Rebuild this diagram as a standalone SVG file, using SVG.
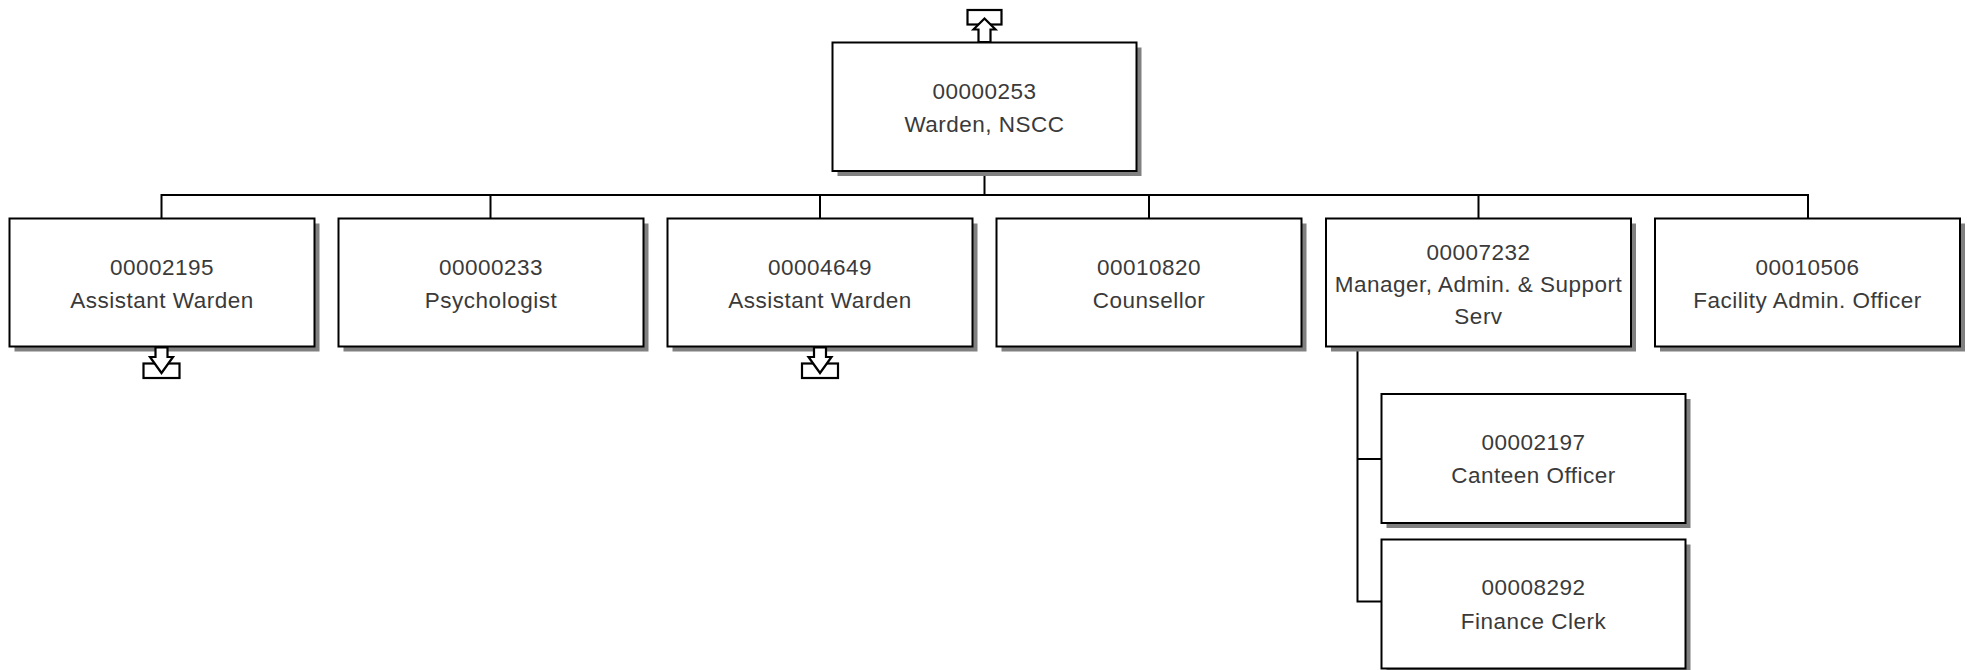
<svg xmlns="http://www.w3.org/2000/svg" width="1967" height="670" viewBox="0 0 1967 670">
<defs>
<style>
.sh{fill:#808080;stroke:none}
.bx{fill:#fff;stroke:#000;stroke-width:2}
.t{font-family:"Liberation Sans",Arial,sans-serif;font-size:22.5px;fill:#3a3a3a;text-anchor:middle;letter-spacing:0.5px}
.cn{fill:none;stroke:#000;stroke-width:2}
.ic{fill:#fff;stroke:#000;stroke-width:2.2;stroke-linejoin:miter}
</style>
</defs>
<rect width="1967" height="670" fill="#fff"/>
<g id="connectors">
<line class="cn" x1="984.5" y1="171.5" x2="984.5" y2="195"/>
<line class="cn" x1="161.5" y1="195" x2="1809" y2="195"/>
<line class="cn" x1="161.5" y1="194" x2="161.5" y2="219"/>
<line class="cn" x1="490.5" y1="194" x2="490.5" y2="219"/>
<line class="cn" x1="820" y1="194" x2="820" y2="219"/>
<line class="cn" x1="1149" y1="194" x2="1149" y2="219"/>
<line class="cn" x1="1478.5" y1="194" x2="1478.5" y2="219"/>
<line class="cn" x1="1808" y1="194" x2="1808" y2="219"/>
<polyline class="cn" points="1357.5,346.5 1357.5,601.5 1381.5,601.5"/>
<line class="cn" x1="1357.5" y1="459" x2="1381.5" y2="459"/>
</g>
<g id="node-00000253">
<rect class="sh" x="837.5" y="47.5" width="304" height="128.5"/>
<rect class="bx" x="832.5" y="42.5" width="304" height="128.5"/>
<text class="t" x="984.5" y="98.5">00000253</text>
<text class="t" x="984.5" y="132">Warden, NSCC</text>
<rect class="ic" x="967.5" y="10" width="34" height="14.5"/>
<polygon class="ic" points="984.5,18.5 995.5,29.5 990.5,29.5 990.5,42 978.5,42 978.5,29.5 973.5,29.5"/>
</g>
<g id="node-00002195">
<rect class="sh" x="14.5" y="223.5" width="305" height="128"/>
<rect class="bx" x="9.5" y="218.5" width="305" height="128"/>
<text class="t" x="162" y="274.5">00002195</text>
<text class="t" x="162" y="308">Assistant Warden</text>
<rect class="ic" x="143.5" y="363.5" width="36" height="14.5"/>
<polygon class="ic" points="155.5,347.5 167.5,347.5 167.5,357 173,357 161.5,373 150,357 155.5,357"/>
</g>
<g id="node-00000233">
<rect class="sh" x="343.5" y="223.5" width="305" height="128"/>
<rect class="bx" x="338.5" y="218.5" width="305" height="128"/>
<text class="t" x="491" y="274.5">00000233</text>
<text class="t" x="491" y="308">Psychologist</text>
</g>
<g id="node-00004649">
<rect class="sh" x="672.5" y="223.5" width="305" height="128"/>
<rect class="bx" x="667.5" y="218.5" width="305" height="128"/>
<text class="t" x="820" y="274.5">00004649</text>
<text class="t" x="820" y="308">Assistant Warden</text>
<rect class="ic" x="802" y="363.5" width="36" height="14.5"/>
<polygon class="ic" points="814,347.5 826,347.5 826,357 831.5,357 820,373 808.5,357 814,357"/>
</g>
<g id="node-00010820">
<rect class="sh" x="1001.5" y="223.5" width="305" height="128"/>
<rect class="bx" x="996.5" y="218.5" width="305" height="128"/>
<text class="t" x="1149" y="274.5">00010820</text>
<text class="t" x="1149" y="308">Counsellor</text>
</g>
<g id="node-00007232">
<rect class="sh" x="1331" y="223.5" width="305" height="128"/>
<rect class="bx" x="1326" y="218.5" width="305" height="128"/>
<text class="t" x="1478.5" y="259.5">00007232</text>
<text class="t" x="1478.5" y="292">Manager, Admin. &amp; Support</text>
<text class="t" x="1478.5" y="324">Serv</text>
</g>
<g id="node-00010506">
<rect class="sh" x="1660" y="223.5" width="305" height="128"/>
<rect class="bx" x="1655" y="218.5" width="305" height="128"/>
<text class="t" x="1807.5" y="274.5">00010506</text>
<text class="t" x="1807.5" y="308">Facility Admin. Officer</text>
</g>
<g id="node-00002197">
<rect class="sh" x="1386.5" y="399" width="304" height="129"/>
<rect class="bx" x="1381.5" y="394" width="304" height="129"/>
<text class="t" x="1533.5" y="450">00002197</text>
<text class="t" x="1533.5" y="483">Canteen Officer</text>
</g>
<g id="node-00008292">
<rect class="sh" x="1386.5" y="544.5" width="304" height="129"/>
<rect class="bx" x="1381.5" y="539.5" width="304" height="129"/>
<text class="t" x="1533.5" y="595">00008292</text>
<text class="t" x="1533.5" y="628.5">Finance Clerk</text>
</g>
</svg>
